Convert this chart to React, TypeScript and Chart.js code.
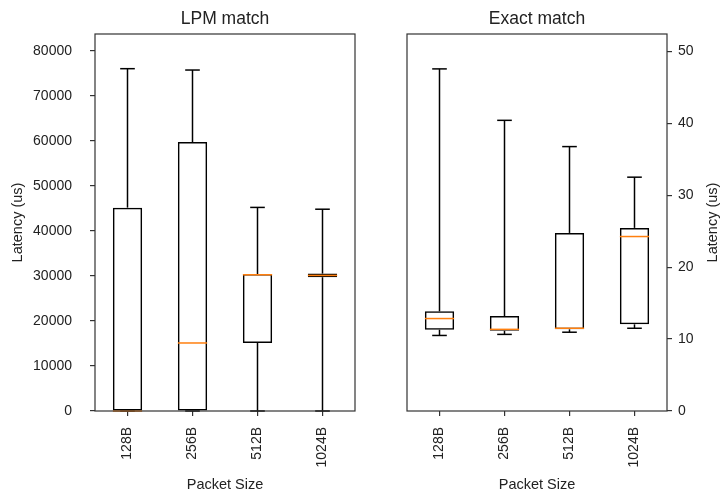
import { useEffect, useRef } from 'react';
import { Chart, registerables } from 'chart.js';

Chart.register(...registerables);

// ---------- data ----------
const categories = ['128B', '256B', '512B', '1024B'];

// LPM match (latency, us)
const lpmMin = [0, 0, 0, 0];
const lpmQ1 = [0, 0, 15100, 29700];
const lpmMedian = [0, 15100, 30250, 30100];
const lpmQ3 = [45150, 59700, 30400, 30500];
const lpmMax = [76000, 75700, 45200, 44800];
const lpmTicks = [0, 10000, 20000, 30000, 40000, 50000, 60000, 70000, 80000];
const lpmYMax = 83700;

// Exact match (latency, us)
const exactMin = [10.5, 10.65, 10.95, 11.5];
const exactQ1 = [11.3, 11.15, 11.35, 12.05];
const exactMedian = [12.85, 11.35, 11.5, 24.25];
const exactQ3 = [13.85, 13.2, 24.75, 25.45];
const exactMax = [47.55, 40.4, 36.75, 32.5];
const exactTicks = [0, 10, 20, 30, 40, 50];
const exactYMax = 52.4;

// ---------- styles ----------
const FONT = 'Liberation Sans';
const TEXT = '#222222';
const AXIS = '#333333';
const MEDIAN = '#ff7f0e';

type Stats = { min: number[]; q1: number[]; med: number[]; q3: number[]; max: number[] };

function makeBoxPlugin(stats: Stats) {
  return {
    id: 'boxParts',
    afterDatasetsDraw(chart: any) {
      const { ctx, chartArea } = chart;
      const xs = chart.scales.x;
      const ys = chart.scales.y;
      const meta = chart.getDatasetMeta(0);
      ctx.save();
      ctx.lineCap = 'butt';
      const line = (x1: number, y1: number, x2: number, y2: number) => {
        ctx.beginPath();
        ctx.moveTo(x1, y1);
        ctx.lineTo(x2, y2);
        ctx.stroke();
      };
      for (let i = 0; i < categories.length; i++) {
        const cx = xs.getPixelForValue(i);
        const w = meta.data[i].width;
        const capHalf = w / 4;
        const yMin = ys.getPixelForValue(stats.min[i]);
        const yQ1 = ys.getPixelForValue(stats.q1[i]);
        const yQ3 = ys.getPixelForValue(stats.q3[i]);
        const yMax = ys.getPixelForValue(stats.max[i]);
        const yMed = ys.getPixelForValue(stats.med[i]);
        ctx.strokeStyle = '#000';
        ctx.lineWidth = 1.5;
        line(cx, yQ3, cx, yMax);
        line(cx, yQ1, cx, yMin);
        line(cx - capHalf, yMax, cx + capHalf, yMax);
        line(cx - capHalf, yMin, cx + capHalf, yMin);
        ctx.strokeStyle = MEDIAN;
        line(cx - w / 2, yMed, cx + w / 2, yMed);
      }
      // frame (spines)
      ctx.strokeStyle = AXIS;
      ctx.lineWidth = 1.2;
      ctx.strokeRect(chartArea.left, chartArea.top, chartArea.right - chartArea.left, chartArea.bottom - chartArea.top);
      ctx.restore();
    },
  };
}

function makeRightTitlePlugin(text: string, x: number) {
  return {
    id: 'rightTitle',
    afterDraw(chart: any) {
      const { ctx, chartArea } = chart;
      ctx.save();
      ctx.translate(x, (chartArea.top + chartArea.bottom) / 2);
      ctx.rotate(-Math.PI / 2);
      ctx.textAlign = 'center';
      ctx.textBaseline = 'middle';
      ctx.fillStyle = TEXT;
      ctx.font = `14.5px "${FONT}"`;
      ctx.fillText(text, 0, 0);
      ctx.restore();
    },
  };
}

function makeConfig(opts: {
  side: 'left' | 'right';
  title: string;
  stats: Stats;
  ticks: number[];
  yMax: number;
  yWidth: number;
  padding: { left: number; right: number; top: number; bottom: number };
}): any {
  const { side, title, stats, ticks, yMax, yWidth, padding } = opts;
  const plugins: any[] = [makeBoxPlugin(stats)];
  if (side === 'right') plugins.push(makeRightTitlePlugin('Latency (us)', 352.5));
  return {
    type: 'bar',
    data: {
      labels: categories,
      datasets: [
        {
          data: stats.q1.map((a, i) => [a, stats.q3[i]]),
          backgroundColor: 'rgba(0,0,0,0)',
          borderColor: '#000',
          borderWidth: 1.5,
          borderSkipped: false,
          barPercentage: 0.45,
          categoryPercentage: 1,
        },
      ],
    },
    plugins,
    options: {
      responsive: false,
      animation: false,
      events: [],
      layout: { padding },
      plugins: {
        legend: { display: false },
        tooltip: { enabled: false },
        title: {
          display: true,
          text: title,
          fullSize: false,
          color: TEXT,
          font: { family: FONT, size: 17.5, weight: 'normal' },
          padding: { top: 9, bottom: 4 },
        },
      },
      scales: {
        x: {
          type: 'category',
          offset: true,
          grid: {
            display: true,
            drawOnChartArea: false,
            drawTicks: true,
            tickLength: 5,
            color: AXIS,
            lineWidth: 1.2,
            offset: false,
          },
          border: { display: false },
          ticks: {
            minRotation: 90,
            maxRotation: 90,
            autoSkip: false,
            padding: 11,
            color: TEXT,
            font: { family: FONT, size: 14 },
          },
          title: {
            display: true,
            text: 'Packet Size',
            color: TEXT,
            font: { family: FONT, size: 14.5 },
            padding: { top: 0, bottom: 0 },
          },
          afterFit: (s: any) => {
            s.height = 83;
            s.paddingLeft = 0;
            s.paddingRight = 0;
            s.paddingTop = 0;
            s.paddingBottom = 0;
          },
        },
        y: {
          position: side,
          min: 0,
          max: yMax,
          afterBuildTicks: (s: any) => {
            s.ticks = ticks.map((v) => ({ value: v }));
          },
          afterFit: (s: any) => {
            s.width = yWidth;
            s.paddingLeft = 0;
            s.paddingRight = 0;
            s.paddingTop = 0;
            s.paddingBottom = 0;
          },
          grid: {
            display: true,
            drawOnChartArea: false,
            drawTicks: true,
            tickLength: 5,
            color: AXIS,
            lineWidth: 1.2,
          },
          border: { display: false },
          ticks: {
            padding: side === 'left' ? 18 : 6,
            color: TEXT,
            font: { family: FONT, size: 14 },
            callback: (v: any) => String(v),
          },
          title:
            side === 'left'
              ? {
                  display: true,
                  text: 'Latency (us)',
                  color: TEXT,
                  font: { family: FONT, size: 14.5 },
                  padding: { top: 9, bottom: 0 },
                }
              : { display: false },
        },
      },
    },
  };
}

export default function App() {
  const leftRef = useRef<HTMLCanvasElement>(null);
  const rightRef = useRef<HTMLCanvasElement>(null);

  useEffect(() => {
    const c1 = new Chart(
      leftRef.current!,
      makeConfig({
        side: 'left',
        title: 'LPM match',
        stats: { min: lpmMin, q1: lpmQ1, med: lpmMedian, q3: lpmQ3, max: lpmMax },
        ticks: lpmTicks,
        yMax: lpmYMax,
        yWidth: 95,
        padding: { left: 0, right: 5, top: 0, bottom: 0 },
      })
    );
    const c2 = new Chart(
      rightRef.current!,
      makeConfig({
        side: 'right',
        title: 'Exact match',
        stats: { min: exactMin, q1: exactQ1, med: exactMedian, q3: exactQ3, max: exactMax },
        ticks: exactTicks,
        yMax: exactYMax,
        yWidth: 54,
        padding: { left: 47, right: 0, top: 0, bottom: 0 },
      })
    );
    return () => {
      c1.destroy();
      c2.destroy();
    };
  }, []);

  return (
    <div style={{ position: 'fixed', left: 0, top: 0, width: 721, height: 494, background: '#fff' }}>
      <canvas
        ref={leftRef}
        width={360}
        height={494}
        style={{ position: 'absolute', left: 0, top: 0, width: 360, height: 494 }}
      />
      <canvas
        ref={rightRef}
        width={361}
        height={494}
        style={{ position: 'absolute', left: 360, top: 0, width: 361, height: 494 }}
      />
    </div>
  );
}
